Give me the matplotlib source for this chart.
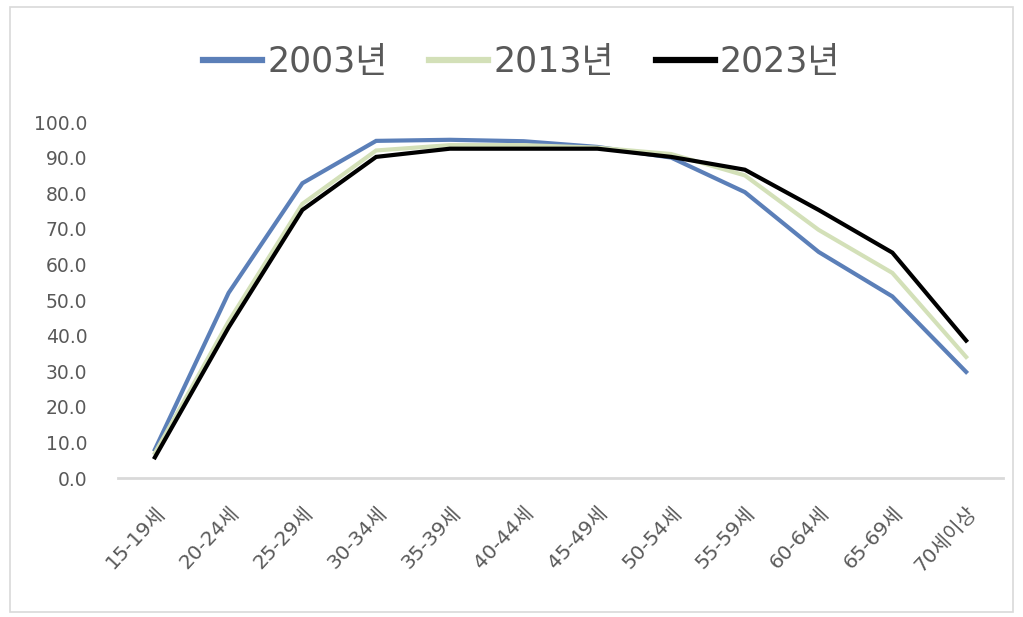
import numpy as np
import matplotlib.pyplot as plt
from matplotlib.patches import Rectangle

plt.rcParams['font.family'] = ['DejaVu Sans', 'Noto Sans CJK KR']

age_groups = ['15-19세', '20-24세', '25-29세', '30-34세', '35-39세', '40-44세',
              '45-49세', '50-54세', '55-59세', '60-64세', '65-69세', '70세이상']
rate_2003 = [8.0, 52.0, 82.8, 94.7, 95.0, 94.6, 93.0, 90.0, 80.3, 63.5, 51.0, 29.8]
rate_2013 = [7.0, 44.0, 77.0, 92.0, 93.5, 93.5, 92.8, 91.0, 85.0, 69.7, 57.6, 34.0]
rate_2023 = [5.8, 42.3, 75.3, 90.2, 92.5, 92.5, 92.5, 90.2, 86.6, 75.3, 63.3, 38.6]
series_labels = ['2003년', '2013년', '2023년']
series_colors = ['#5B7FB8', '#D3E0B8', '#000000']

fig = plt.figure(figsize=(10.23, 6.17), dpi=100)
ax = fig.add_axes([118 / 1023, 1 - 478 / 617, 885 / 1023, 356 / 617])

x = np.arange(len(age_groups))
for values, label, color in zip([rate_2003, rate_2013, rate_2023], series_labels, series_colors):
    ax.plot(x, values, color=color, lw=3.0, label=label, solid_joinstyle='miter')

ax.set_xlim(-0.5, len(age_groups) - 0.5)
ax.set_ylim(0, 100)
ax.set_yticks(np.arange(0, 101, 10))
ax.set_yticklabels(['{:.1f}'.format(v) for v in np.arange(0, 101, 10)], fontsize=13.5, color='#595959')
ax.set_xticks(x)
ax.set_xticklabels(age_groups, rotation=47, ha='right', va='top', rotation_mode='anchor',
                   fontsize=14.5, color='#595959')
ax.tick_params(axis='both', length=0)
ax.tick_params(axis='y', pad=22)
ax.tick_params(axis='x', pad=18)

for side in ['top', 'right', 'left']:
    ax.spines[side].set_visible(False)
ax.spines['bottom'].set_color('#D9D9D9')
ax.spines['bottom'].set_linewidth(2)

leg = fig.legend(loc='center', bbox_to_anchor=(0.51, 1 - 62 / 617), ncol=3, frameon=False,
                 fontsize=25, handlelength=1.7, handletextpad=0.15, columnspacing=1.2)
for text in leg.get_texts():
    text.set_color('#595959')
for line in leg.get_lines():
    line.set_linewidth(4.5)

fig.patches.append(Rectangle((10 / 1023, 5 / 617), 1003 / 1023, 605 / 617, transform=fig.transFigure,
                             fill=False, edgecolor='#D9D9D9', lw=1.2))

fig.savefig('out.png', dpi=100, facecolor='white')
